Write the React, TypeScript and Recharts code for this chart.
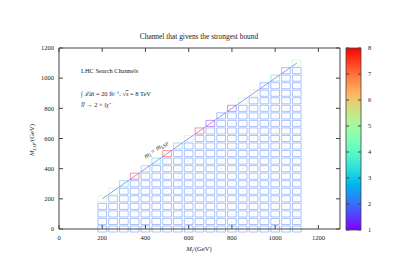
import {
  ComposedChart,
  XAxis,
  YAxis,
  Scatter,
  ReferenceArea,
  ReferenceLine,
} from "recharts";

// slepton mass columns (GeV)
const sleptonMasses = [
  200, 250, 300, 350, 400, 450, 500, 550, 600, 650, 700, 750, 800, 850, 900,
  950, 1000, 1050, 1100,
];

// LSP mass rows (GeV)
const lspMasses = [
  0, 50, 100, 150, 200, 250, 300, 350, 400, 450, 500, 550, 600, 650, 700, 750,
  800, 850, 900, 950, 1000, 1050, 1100,
];

// strongest channel on the compressed diagonal (m_LSP = m_l), one per column
const diagonalChannel = [5, 5, 3, 8, 3, 3, 8, 3, 5, 8, 1, 2, 1, 5, 5, 2, 3, 2, 5];

// channel everywhere below the diagonal
const bulkChannel = 2;

const xTicks = [0, 200, 400, 600, 800, 1000, 1200];
const yTicks = [0, 200, 400, 600, 800, 1000, 1200];
const colorTicks = [1, 2, 3, 4, 5, 6, 7, 8];

const FONT = '"Liberation Serif", "DejaVu Serif", serif';
const INK = "#222";

// gnuplot rgbformulae 33,13,10 (rainbow)
function rainbow(v: number) {
  const t = Math.max(0, Math.min(1, (v - 1) / 7));
  const r = Math.min(1, Math.abs(2 * t - 0.5));
  const g = Math.max(0, Math.sin(Math.PI * t));
  const b = Math.max(0, Math.cos((Math.PI * t) / 2));
  const h = (c: number) =>
    Math.round(c * 255)
      .toString(16)
      .padStart(2, "0");
  return `#${h(r)}${h(g)}${h(b)}`;
}

const cells = sleptonMasses.flatMap((ml, i) =>
  lspMasses
    .filter((m) => m <= ml)
    .map((m) => ({ x: ml, y: m, c: m === ml ? diagonalChannel[i] : bulkChannel })),
);

const colorPoints = colorTicks.map((v) => ({ x: 0.5, y: v }));

const tickStyle = { fontSize: 6.5, fill: INK, fontFamily: FONT };
const noShape = () => <g />;

function MainPlot() {
  return (
    <ComposedChart
      width={399}
      height={279}
      margin={{ top: 47, right: 58, bottom: 30, left: 20 }}
    >
      <XAxis
        type="number"
        dataKey="x"
        domain={[0, 1300]}
        ticks={xTicks}
        allowDataOverflow
        height={20}
        tickSize={-4}
        tickMargin={10}
        tick={tickStyle}
        stroke="#444"
      />
      <XAxis
        xAxisId="top"
        orientation="top"
        type="number"
        dataKey="x"
        domain={[0, 1300]}
        ticks={xTicks}
        allowDataOverflow
        height={1}
        tickSize={-4}
        tickFormatter={() => ""}
        stroke="#444"
      />
      <YAxis
        type="number"
        dataKey="y"
        domain={[0, 1200]}
        ticks={yTicks}
        allowDataOverflow
        width={39}
        tickSize={-4}
        tickMargin={9}
        tick={tickStyle}
        stroke="#444"
      />
      <YAxis
        yAxisId="right"
        orientation="right"
        type="number"
        dataKey="y"
        domain={[0, 1200]}
        ticks={yTicks}
        allowDataOverflow
        width={1}
        tickSize={-4}
        tickFormatter={() => ""}
        stroke="#444"
      />

      {cells.map((d) => (
        <ReferenceArea
          key={`${d.x}-${d.y}`}
          x1={d.x - 20}
          x2={d.x + 20}
          y1={d.y - 20}
          y2={d.y + 20}
          ifOverflow="visible"
          fill="none"
          stroke={rainbow(d.c)}
          strokeOpacity={0.42}
          strokeWidth={1}
        />
      ))}

      <Scatter
        data={cells}
        dataKey="y"
        isAnimationActive={false}
        shape={(p: any) => <circle cx={p.cx} cy={p.cy} r={0.35} fill="#aaa" />}
      />
      {/* keeps the mirrored top/right border axes alive */}
      <Scatter
        data={cells}
        dataKey="y"
        xAxisId="top"
        yAxisId="right"
        isAnimationActive={false}
        shape={noShape}
      />

      <ReferenceLine
        segment={[
          { x: 200, y: 200 },
          { x: 1100, y: 1100 },
        ]}
        stroke="#7a6cf0"
        strokeWidth={0.7}
        ifOverflow="visible"
      />

      <text x={199} y={39} textAnchor="middle" fontSize={7.4} fontFamily={FONT} fill={INK}>
        Channel that givens the strongest bound
      </text>
      <text x={81} y={73} fontSize={6.4} fontFamily={FONT} fill={INK}>
        LHC Search Channels
      </text>
      <text x={81} y={96} fontSize={6.4} fontFamily={FONT} fill={INK}>
        ∫ <tspan fontStyle="italic">ℒdt</tspan> = 20 fb
        <tspan dy={-2.5} fontSize={4.5}>−1</tspan>
        <tspan dy={2.5}>, √</tspan>
        <tspan fontStyle="italic" textDecoration="overline">s</tspan> = 8 TeV
      </text>
      <text x={81} y={107} fontSize={6.4} fontFamily={FONT} fill={INK}>
        <tspan fontStyle="italic">l̃l̃</tspan> → 2 × <tspan fontStyle="italic">lχ̃</tspan>
      </text>

      <text
        transform="translate(157,151) rotate(-35)"
        textAnchor="middle"
        fontSize={7}
        fontFamily={FONT}
        fill={INK}
      >
        <tspan fontStyle="italic">m</tspan>
        <tspan dy={1.6} fontSize={5} fontStyle="italic">l̃</tspan>
        <tspan dy={-1.6}> = </tspan>
        <tspan fontStyle="italic">m</tspan>
        <tspan dy={1.6} fontSize={5} fontStyle="italic">LSP</tspan>
      </text>

      <text x={199} y={251} textAnchor="middle" fontSize={6.6} fontFamily={FONT} fill={INK}>
        <tspan fontStyle="italic">M</tspan>
        <tspan dy={1.5} fontSize={4.6} fontStyle="italic">l̃</tspan>
        <tspan dy={-1.5}>/(GeV)</tspan>
      </text>
      <text
        transform="translate(34,140) rotate(-90)"
        textAnchor="middle"
        fontSize={6.6}
        fontFamily={FONT}
        fill={INK}
      >
        <tspan fontStyle="italic">M</tspan>
        <tspan dy={1.5} fontSize={4.6} fontStyle="italic">LSP</tspan>
        <tspan dy={-1.5}>/(GeV)</tspan>
      </text>
    </ComposedChart>
  );
}

function ColorBar() {
  const stops = Array.from({ length: 21 }, (_, k) => k / 20);
  return (
    <ComposedChart
      width={59}
      height={279}
      margin={{ top: 48, right: 0, bottom: 49, left: 5 }}
    >
      <defs>
        <linearGradient id="cbgrad" x1="0" y1="1" x2="0" y2="0">
          {stops.map((s) => (
            <stop key={s} offset={s} stopColor={rainbow(1 + 7 * s)} />
          ))}
        </linearGradient>
      </defs>
      <XAxis type="number" dataKey="x" domain={[0, 1]} hide />
      <YAxis
        orientation="right"
        type="number"
        dataKey="y"
        domain={[1, 8]}
        ticks={colorTicks}
        width={38}
        tickSize={-3}
        tickMargin={10}
        tick={tickStyle}
        axisLine={false}
        stroke="#444"
      />
      <YAxis
        yAxisId="left"
        orientation="left"
        type="number"
        dataKey="y"
        domain={[1, 8]}
        ticks={colorTicks}
        width={1}
        tickSize={-3}
        tickFormatter={() => ""}
        axisLine={false}
        stroke="#444"
      />
      <ReferenceArea
        x1={0}
        x2={1}
        y1={1}
        y2={8}
        ifOverflow="visible"
        fill="url(#cbgrad)"
        fillOpacity={1}
        stroke="#444"
        strokeWidth={0.8}
      />
      <Scatter data={colorPoints} dataKey="y" isAnimationActive={false} shape={noShape} />
      <Scatter
        data={colorPoints}
        dataKey="y"
        yAxisId="left"
        isAnimationActive={false}
        shape={noShape}
      />
    </ComposedChart>
  );
}

export default function App() {
  return (
    <div
      style={{
        position: "absolute",
        left: 0,
        top: 0,
        width: 399,
        height: 279,
        background: "#fff",
      }}
    >
      <MainPlot />
      <div style={{ position: "absolute", left: 340, top: 0 }}>
        <ColorBar />
      </div>
    </div>
  );
}
